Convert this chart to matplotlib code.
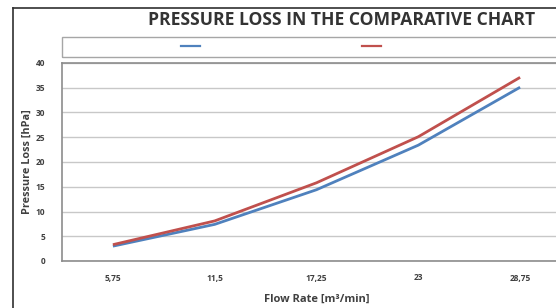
import numpy as np
import matplotlib.pyplot as plt
from matplotlib.lines import Line2D
from matplotlib.patches import Rectangle

# ==============================
# DATA
# ==============================

flow_labels = ["5,75", "11,5", "17,25", "23", "28,75"]
series_blue = [3.0, 7.4, 14.4, 23.4, 35.1]
series_red = [3.3, 8.1, 15.8, 25.1, 37.1]
y_ticks = [0, 5, 10, 15, 20, 25, 30, 35, 40]

BLUE = "#4f81bd"
RED = "#c0504d"
TEXT = "#404040"

plt.rcParams['font.family'] = ['Open Sans', 'DejaVu Sans']

W, H = 556, 308
fig = plt.figure(figsize=(W / 100, H / 100), dpi=100)

# plot area runs past the right edge of the picture (cropped screenshot)
left, right, top, bottom = 62, 571, 63, 261
ax = fig.add_axes([left / W, 1 - bottom / H, (right - left) / W, (bottom - top) / H])

x = np.arange(len(flow_labels))
ax.plot(x, series_blue, color=BLUE, lw=2, solid_capstyle="butt")
ax.plot(x, series_red, color=RED, lw=2, solid_capstyle="butt")

ax.set_xlim(-0.5, len(flow_labels) - 0.5)
ax.set_ylim(0, 40)
ax.set_yticks(y_ticks)
ax.set_xticks(x)
ax.set_xticklabels(flow_labels)
ax.tick_params(length=0, labelsize=6, labelcolor=TEXT)
ax.tick_params(axis="y", pad=12)
ax.tick_params(axis="x", pad=9)
for lbl in ax.get_xticklabels() + ax.get_yticklabels():
    lbl.set_fontweight("bold")

ax.grid(axis="y", color="#c8c8c8", lw=1)
ax.set_axisbelow(True)
for s in ax.spines.values():
    s.set_color("#8c8c8c")
    s.set_linewidth(1.2)

ax.set_xlabel("Flow Rate [m³/min]", fontsize=8, fontweight="bold", color=TEXT, labelpad=8)
ax.set_ylabel("Pressure Loss [hPa]", fontsize=7.8, fontweight="bold", color=TEXT, labelpad=2)

fig.text(342 / W, 1 - 20 / H, "PRESSURE LOSS IN THE COMPARATIVE CHART",
         ha="center", va="center", fontsize=12.6, fontweight="bold", color="#333333")

# legend box (no series names in the original)
fig.add_artist(Rectangle((left / W, 1 - 57 / H), (right - left) / W, 20 / H,
                         transform=fig.transFigure, fill=False,
                         edgecolor="#a6a6a6", lw=1))
handles = [Line2D([], [], color=BLUE, lw=1.6), Line2D([], [], color=RED, lw=1.6)]
fig.legend(handles, ["", ""], ncol=2, loc="center left",
           bbox_to_anchor=(181 / W, 1 - 47 / H), frameon=False,
           fontsize=8, handlelength=1.7, handletextpad=0.0,
           columnspacing=14.6, borderpad=0, borderaxespad=0)

# outer chart frame lines
fig.add_artist(Line2D([13 / W, 13 / W], [0, 1 - 8 / H], transform=fig.transFigure,
                      color="#303030", lw=1.2))
fig.add_artist(Line2D([13 / W, 1], [1 - 8 / H, 1 - 8 / H], transform=fig.transFigure,
                      color="#303030", lw=1.2))

fig.savefig("out.png", dpi=100)
